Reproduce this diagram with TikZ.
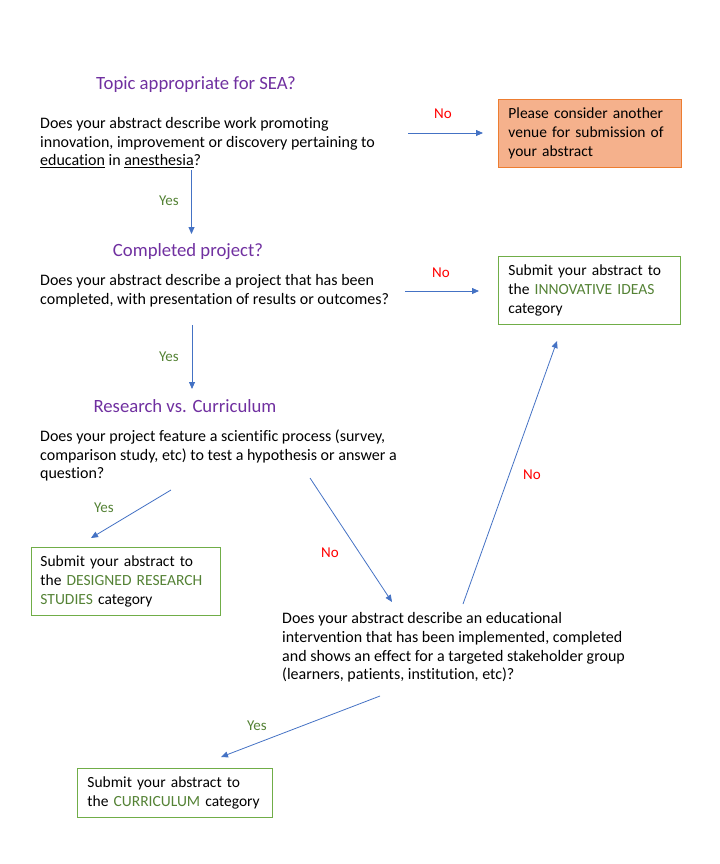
\documentclass[tikz,border=0pt]{standalone}
\usepackage{fontspec}
\setmainfont{Carlito}[Ligatures=NoCommon]
\usetikzlibrary{arrows.meta}
\definecolor{arrowblue}{HTML}{4472C4}
\definecolor{titlepurple}{HTML}{7030A0}
\definecolor{yesgreen}{HTML}{548235}
\definecolor{boxgreen}{HTML}{70AD47}
\definecolor{nored}{HTML}{FF0000}
\definecolor{venuefill}{HTML}{F5B18C}
\definecolor{venuedraw}{HTML}{ED7D31}
\tikzset{
  question/.style={anchor=west,align=left,inner sep=0pt,font=\fontsize{16bp}{18.7bp}\selectfont},
  heading/.style={inner sep=0pt,text=titlepurple,font=\fontsize{18.7bp}{22bp}\selectfont},
  answerbox/.style={draw=boxgreen,line width=0.9bp,anchor=north west,align=left,inner xsep=10bp,
    inner ysep=0pt,font=\fontsize{15.5bp}{18.7bp}\selectfont},
  yeslabel/.style={inner sep=0pt,text=yesgreen,font=\fontsize{15bp}{18bp}\selectfont},
  nolabel/.style={inner sep=0pt,text=nored,font=\fontsize{15bp}{18bp}\selectfont},
  flow/.style={draw=arrowblue,line width=0.8bp,-{Triangle[length=7bp,width=6bp]}},
}
\newcommand{\cat}[1]{\textcolor{yesgreen}{#1}}
\begin{document}
\begin{tikzpicture}[x=1bp,y=-1bp]
  \useasboundingbox (0,0) rectangle (720,864);
%%
  % Node: Topic
  \node[heading] (topic) at (196,84.5) {Topic appropriate for SEA?};
  % Node: Q_topic
  \node[question] (qtopic) at (40,142.5) {Does your abstract describe work promoting\\
    innovation, improvement or discovery pertaining to\\
    \underline{education} in \underline{anesthesia}?};
  % Node: Venue
  \node[answerbox,draw=venuedraw,fill=venuefill,text width=163bp,minimum height=68bp]
    (venue) at (498,99) {Please consider another\\venue for submission of\\your abstract};
  % Node: Completed
  \node[heading] (completed) at (188,251.5) {Completed project?};
  % Node: Q_completed
  \node[question] (qcompleted) at (40,291) {Does your abstract describe a project that has been\\
    completed, with presentation of results or outcomes?};
  % Node: Innovative
  \node[answerbox,text width=162bp,minimum height=68bp]
    (innovative) at (498,256) {Submit your abstract to\\the \cat{INNOVATIVE IDEAS}\\category};
  % Node: Research
  \node[heading] (research) at (185,406) {Research vs. Curriculum};
  % Node: Q_research
  \node[question] (qresearch) at (40,455.5) {Does your project feature a scientific process (survey,\\
    comparison study, etc) to test a hypothesis or answer a\\question?};
  % Node: Designed
  \node[answerbox,inner xsep=9bp,text width=171bp,minimum height=68bp]
    (designed) at (31,547) {Submit your abstract to\\the \cat{DESIGNED RESEARCH}\\\cat{STUDIES} category};
  % Node: Q_curriculum
  \node[question] (qcurriculum) at (282,647.5) {Does your abstract describe an educational\\
    intervention that has been implemented, completed\\
    and shows an effect for a targeted stakeholder group\\
    (learners, patients, institution, etc)?};
  % Node: Curriculum
  \node[answerbox,text width=175bp,minimum height=49bp]
    (curriculum) at (77,768) {Submit your abstract to\\the \cat{CURRICULUM} category};
%%
  \coordinate (topicno-s) at (408,133);      \coordinate (topicno-e) at (483,133);
  \coordinate (topicyes-s) at (191.5,170);   \coordinate (topicyes-e) at (191.5,234);
  \coordinate (completedno-s) at (405,291);  \coordinate (completedno-e) at (479,291);
  \coordinate (completedyes-s) at (192,325); \coordinate (completedyes-e) at (192,389);
  \coordinate (researchyes-s) at (171,490);  \coordinate (researchyes-e) at (91,538);
  \coordinate (researchno-s) at (310,478);   \coordinate (researchno-e) at (392,602);
  \coordinate (curriculumno-s) at (463,604); \coordinate (curriculumno-e) at (557,341);
  \coordinate (curriculumyes-s) at (380,696);\coordinate (curriculumyes-e) at (221,757);
  % Edge: Q_topic -> Venue
  \draw[flow] (topicno-s) -- (topicno-e);
  \node[nolabel] at (443,114) {No};
  % Edge: Q_topic -> Completed
  \draw[flow] (topicyes-s) -- (topicyes-e);
  \node[yeslabel] at (169,201) {Yes};
  % Edge: Q_completed -> Innovative
  \draw[flow] (completedno-s) -- (completedno-e);
  \node[nolabel] at (441,273) {No};
  % Edge: Q_completed -> Research
  \draw[flow] (completedyes-s) -- (completedyes-e);
  \node[yeslabel] at (169,357) {Yes};
  % Edge: Q_research -> Designed
  \draw[flow] (researchyes-s) -- (researchyes-e);
  \node[yeslabel] at (104,508) {Yes};
  % Edge: Q_research -> Q_curriculum
  \draw[flow] (researchno-s) -- (researchno-e);
  \node[nolabel] at (330,553) {No};
  % Edge: Q_curriculum -> Innovative
  \draw[flow] (curriculumno-s) -- (curriculumno-e);
  \node[nolabel] at (532,475) {No};
  % Edge: Q_curriculum -> Curriculum
  \draw[flow] (curriculumyes-s) -- (curriculumyes-e);
  \node[yeslabel] at (257,726) {Yes};
%
\end{tikzpicture}
\end{document}
